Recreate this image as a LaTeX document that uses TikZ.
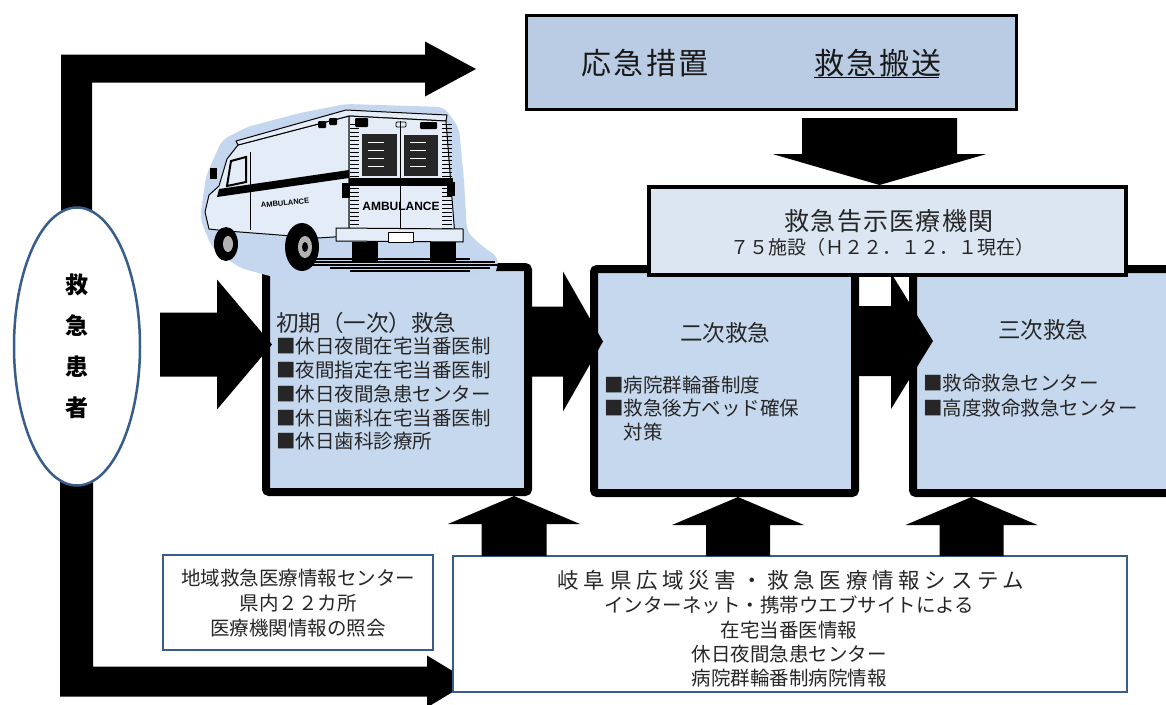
\documentclass[tikz,border=0pt]{standalone}
\usepackage{fontspec}
\setmainfont{Noto Sans CJK JP}
\newfontfamily\amb{Liberation Sans}
\usetikzlibrary{shapes.geometric,calc}
\pgfdeclarelayer{back}
\pgfsetlayers{back,main}
\definecolor{topfill}{RGB}{185,204,228}
\definecolor{boxfill}{RGB}{198,216,238}
\definecolor{notefill}{RGB}{220,230,242}
\definecolor{halo}{RGB}{196,215,239}
\definecolor{vanbody}{RGB}{228,236,247}
\definecolor{infoline}{RGB}{56,93,138}
\definecolor{txt}{RGB}{38,38,38}
\newcommand{\blockarrow}[5]{%
  \fill[black] let \p1=(#1), \p2=(#2),
    \n1={veclen(\x2-\x1,\y2-\y1)}, \n2={atan2(\y2-\y1,\x2-\x1)} in
    [shift={(\x1,\y1)}, rotate=\n2]
    (0,-#3) -- ({\n1-#5},-#3) -- ({\n1-#5},-#4) -- (\n1,0)
    -- ({\n1-#5},#4) -- ({\n1-#5},#3) -- (0,#3) -- cycle;}
\tikzset{
  lvlbox/.style={draw=black, line width=8pt, fill=boxfill, rounded corners=3pt, inner sep=0pt, outer sep=0pt},
  topbx/.style={draw=black, line width=3pt, fill=topfill, inner sep=0pt, outer sep=0pt},
  notebx/.style={draw=black, line width=4pt, fill=notefill, inner sep=0pt, outer sep=0pt},
  infobox/.style={draw=infoline, line width=2.5pt, fill=white, inner sep=0pt, outer sep=0pt},
  listtxt/.style={anchor=west, inner sep=0pt, text=txt, font=\fontsize{19.5}{20}\selectfont},
  ctrtxt/.style={inner sep=0pt, text=txt, font=\fontsize{19.5}{20}\selectfont},
  titletxt/.style={inner sep=0pt, text=txt, font=\fontsize{22.5}{24}\selectfont},
  bigtxt/.style={inner sep=0pt, text=black!90, font=\fontsize{30}{32}\selectfont\addfontfeatures{LetterSpace=8}},
  van/.style={draw=black, line width=1pt, line join=round},
}
\begin{document}
\begin{tikzpicture}[x=1pt,y=-1pt]
\path[use as bounding box, clip] (0,0) rectangle (1166,704);

% ---------- patient ellipse ----------
\node[ellipse, draw=infoline, line width=2.5pt, fill=white, minimum width=126pt, minimum height=278pt,
      inner sep=0pt, outer sep=0pt, align=center, text=black,
      font=\bfseries\fontsize{23}{41}\selectfont] (patient) at (77,346.5) {救\\急\\患\\者};

% ---------- L-shaped arrows (behind) ----------
\begin{pgfonlayer}{back}
\fill[white] (0,0) rectangle (1166,704);
\fill[black] ($(patient.north)+(-16,5)$) -- ++(0,-158) -- ++(364,0) -- ++(0,-13) -- ++(51,27.5)
   -- ++(-51,27.5) -- ++(0,-14) -- ++(-333,0) -- ++(0,130) -- cycle;
\fill[black] ($(patient.south)+(-17,-5)$) -- ++(0,216) -- ++(367,0) -- ++(0,11) -- ++(43,-26)
   -- ++(-43,-26) -- ++(0,11) -- ++(-334,0) -- ++(0,-186) -- cycle;
\end{pgfonlayer}

% ---------- top box ----------
\node[topbx, minimum width=490pt, minimum height=94pt] (topbox) at (771.5,62.5) {};
\node[bigtxt] (t1) at (645,63) {応急措置};
\node[bigtxt] (t2) at (878,63) {救急搬送};
\draw[line width=1.3pt] ($(t2.base west)+(0,3)$) -- ($(t2.base east)+(-2.4,3)$);

% ---------- level boxes ----------
\node[lvlbox, minimum width=262pt, minimum height=225pt] (box1) at (397,379.5) {};
\node[lvlbox, minimum width=261pt, minimum height=224pt] (box2) at (724.5,381) {};
\node[lvlbox, minimum width=267pt, minimum height=224pt] (box3) at (1046.5,381) {};

\node[titletxt, anchor=west] (b1t) at (276,323) {初期（一次）救急};
\foreach \t [count=\i] in {■休日夜間在宅当番医制,■夜間指定在宅当番医制,■休日夜間急患センター,■休日歯科在宅当番医制,■休日歯科診療所}
  \node[listtxt] (b1l\i) at (276,{346.5+23.7*(\i-1)}) {\t};

\node[titletxt] (b2t) at (725,333) {二次救急};
\foreach \t [count=\i] in {■病院群輪番制度,■救急後方ベッド確保,　対策}
  \node[listtxt] (b2l\i) at (604,{385+23.5*(\i-1)}) {\t};

\node[titletxt] (b3t) at (1043,330) {三次救急};
\foreach \t [count=\i] in {■救命救急センター,■高度救命救急センター}
  \node[listtxt] (b3l\i) at (923,{383+25*(\i-1)}) {\t};

% ---------- horizontal arrows ----------
\coordinate (a0s) at ($(patient.east)+(20,-2)$);
\coordinate (a0t) at ($(box1.west |- a0s)+(6,0)$);
\blockarrow{a0s}{a0t}{32}{65}{55}
\coordinate (a1s) at ($(box1.east)+(0,-38)$);
\coordinate (a1t) at ($(box2.west |- a1s)+(9,0)$);
\blockarrow{a1s}{a1t}{35}{70}{40}
\coordinate (a2s) at ($(box2.east)+(0,-40)$);
\coordinate (a2t) at ($(box3.west |- a2s)+(20,0)$);
\blockarrow{a2s}{a2t}{35}{68}{42}

% ---------- notified hospitals box ----------
\node[notebx, minimum width=477pt, minimum height=88pt] (note) at (887.5,231) {};
\node[inner sep=0pt, text=txt, font=\fontsize{25}{26}\selectfont\addfontfeatures{LetterSpace=5}] (n1) at (889,221) {救急告示医療機関};
\node[inner sep=0pt, text=txt, font=\fontsize{19}{20}\selectfont] (n2) at (882,247) {７５施設（Ｈ２２．１２．１現在）};

\coordinate (a3s) at ($(topbox.south)+(108,8.5)$);
\coordinate (a3t) at ($(note.north -| a3s)+(0,-2)$);
\blockarrow{a3s}{a3t}{77.5}{107}{31}

% ---------- information boxes ----------
\node[infobox, minimum width=270pt, minimum height=95pt] (infosmall) at (298,602.5) {};
\node[ctrtxt] (s1) at (298,578) {地域救急医療情報センター};
\node[ctrtxt] (s2) at (298,603) {県内２２カ所};
\node[ctrtxt] (s3) at (298,628) {医療機関情報の照会};

\node[infobox, minimum width=674pt, minimum height=136pt] (infobig) at (790,624) {};
\node[inner sep=0pt, text=txt, font=\fontsize{21.5}{24}\selectfont\addfontfeatures{LetterSpace=22}] (g0) at (791,580) {岐阜県広域災害・救急医療情報システム};
\node[ctrtxt] (g1) at (789,605) {インターネット・携帯ウエブサイトによる};
\node[ctrtxt] (g2) at (789,630) {在宅当番医情報};
\node[ctrtxt] (g3) at (789,654) {休日夜間急患センター};
\node[ctrtxt] (g4) at (789,678) {病院群輪番制病院情報};

% ---------- upward arrows ----------
\coordinate (u1s) at ($(infobig.north)+(-276,0)$);
\coordinate (u1t) at ($(box1.south -| u1s)+(0,4)$);
\blockarrow{u1s}{u1t}{32.5}{66}{28}
\coordinate (u2s) at ($(infobig.north)+(-52,0)$);
\coordinate (u2t) at ($(box2.south -| u2s)+(0,4)$);
\blockarrow{u2s}{u2t}{32}{66}{28}
\coordinate (u3s) at ($(infobig.north)+(181.5,0)$);
\coordinate (u3t) at ($(box3.south -| u3s)+(0,4)$);
\blockarrow{u3s}{u3t}{32}{66}{28}

% ---------- ambulance ----------
\fill[halo, rounded corners=7pt] (200,218) -- (206,176) -- (222,140) -- (247,127) -- (300,113)
  -- (346,104) -- (444,107) -- (459,128) -- (464,180) -- (467,232) -- (482,246) -- (499,258)
  -- (495,276) -- (380,282) -- (292,282) -- (240,268) -- (212,248) -- cycle;
% side panel
\filldraw[van, fill=vanbody] (238,145) -- (349,116) -- (349,236) -- (318,238) -- (227,231)
  -- (209,229) -- (205,212) -- (209,195) -- (219,186) -- (227,159) -- cycle;
% roof
\filldraw[van, fill=vanbody] (236,141) -- (346,110) -- (447,115) -- (446,121) -- (349,116) -- (238,145) -- cycle;
% rear face
\filldraw[van, fill=vanbody] (349,116) -- (446,121) -- (455,237) -- (349,237) -- cycle;
\foreach \yy in {124,128,...,232} {
  \draw[line width=0.7pt] (350,\yy) -- (359,\yy);
  \draw[line width=0.7pt] (442,\yy) -- (452,\yy);
}
% rear windows
\fill[black!85] (362,134) rectangle (397,176);
\fill[black!85] (404,135) rectangle (438,176);
\foreach \yy in {142,150,158,166} {
  \draw[white, line width=0.6pt] (368,\yy) -- (384,\yy);
  \draw[white, line width=0.6pt] (410,\yy) -- (426,\yy);
}
% stripes
\fill[black] (219,189) -- (349,170) -- (349,178) -- (217,197) -- cycle;
\fill[black] (349,178) rectangle (453,186);
% doors
\draw[van] (400,121) -- (400,237);
\draw[van] (250,152) -- (250,230);
% cab window and mirror
\filldraw[line width=2pt, fill=vanbody] (231,161) -- (246,157) -- (246,182) -- (227,186) -- cycle;
\fill[black] (210,168) rectangle (217,179);
% roof lights
\fill[black, rounded corners=1pt] (318,121) rectangle (326,128);
\fill[black, rounded corners=1pt] (329,118) rectangle (337,125);
\fill[black, rounded corners=1pt] (355,118) rectangle (368,127);
\draw[line width=0.8pt, rounded corners=1pt] (396,122) rectangle (406,127);
\fill[black, rounded corners=1pt] (420,122) rectangle (437,129);
% tail lights
\fill[black] (342,183) rectangle (350,198);
\fill[black] (447,182) rectangle (455,196);
% lettering
\node[rotate=5, inner sep=0pt, font=\amb\bfseries\fontsize{7.5}{8}\selectfont] (ambside) at (285,203) {AMBULANCE};
\node[inner sep=0pt, font=\amb\bfseries\fontsize{12}{13}\selectfont] (ambrear) at (401,206) {AMBULANCE};
% bumper and plate
\filldraw[van, fill=vanbody] (336,228) -- (463,229) -- (463,242) -- (336,241) -- cycle;
\filldraw[van, fill=white] (388,232) rectangle (413,242);
% wheels
\fill[black] (226,244) ellipse [x radius=12pt, y radius=17pt];
\fill[gray!60] (228,244) ellipse [x radius=5pt, y radius=8pt];
\fill[black] (302,247) ellipse [x radius=17pt, y radius=24pt];
\fill[gray!60] (305,247) ellipse [x radius=7pt, y radius=11pt];
\fill[black] (305,247) ellipse [x radius=3pt, y radius=5pt];
\fill[black] (352,242) rectangle (378,262);
\fill[black] (430,242) rectangle (456,262);
% ground shadow
\foreach \yy/\xa/\xb in {259/300/470, 262/310/495, 265/300/498, 268/330/490, 271/350/470}
  \draw[line width=1.2pt] (\xa,\yy) -- (\xb,\yy);
\end{tikzpicture}
\end{document}
